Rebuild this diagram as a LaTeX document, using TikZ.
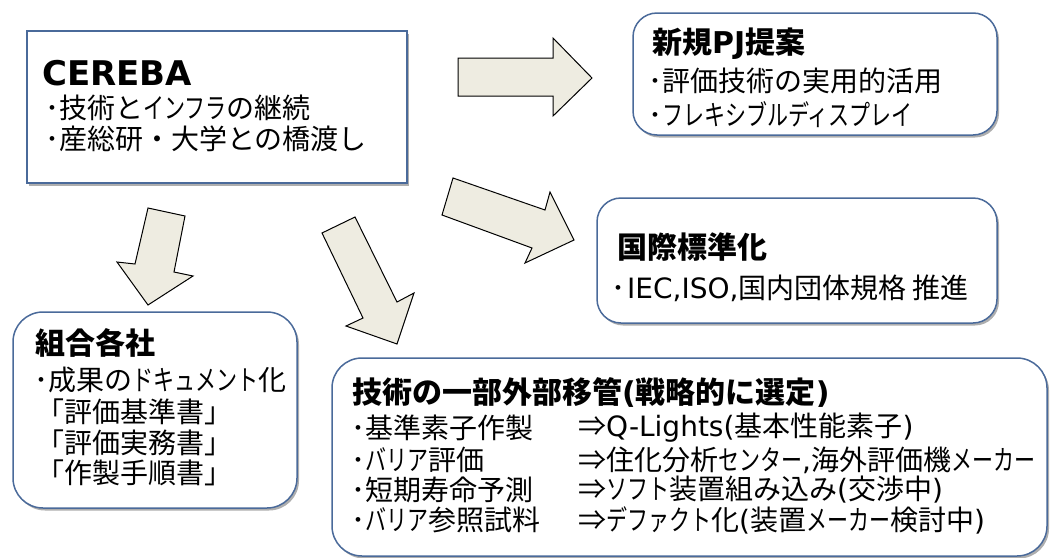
\documentclass[tikz,border=0pt]{standalone}
\usepackage{fontspec}
\setmainfont{Noto Sans CJK JP}
\newfontfamily\ktf{Noto Sans CJK JP}[FakeStretch=0.75]
\newfontfamily\laf{DejaVu Sans}
\newcommand\kt[1]{{\ktf #1}}
\newcommand\la[1]{{\laf #1}}
\newcommand\dt{･}
\usetikzlibrary{shadows}
\definecolor{bordc}{HTML}{4A6A9A}
\definecolor{arrowc}{HTML}{EEECE1}
\begin{document}
\begin{tikzpicture}[x=1pt,y=-1pt,
  box/.style={draw=bordc, line width=1.5pt, fill=white, inner sep=0pt,
    drop shadow={shadow xshift=2pt, shadow yshift=-2.5pt, opacity=0.45, fill=black!70}},
  rbox/.style={box, rounded corners=#1},
  blk/.style={draw=black, line width=1pt, fill=arrowc, line join=miter},
  txt/.style={anchor=west, inner sep=0pt, font=\fontsize{28}{30}\selectfont},
  ttl/.style={anchor=west, inner sep=0pt, font=\fontsize{30}{32}\selectfont\bfseries},
]
\useasboundingbox (0,0) rectangle (1051,557);
% block arrows
\draw[blk] (458,58) -- (553,58) -- (553,38) -- (592,78) -- (553,116) -- (553,96) -- (458,96) -- cycle;
\draw[blk] (453,178) -- (545,210) -- (550,192) -- (574,240) -- (525,263) -- (532,248) -- (442,215) -- cycle;
\draw[blk] (148,208) -- (185,216) -- (174,272) -- (193,276) -- (148,305) -- (117,262) -- (135,264) -- cycle;
\draw[blk] (322,233) -- (355,217) -- (397,302) -- (414,293) -- (397,344) -- (346,326) -- (363,318) -- cycle;
% boxes
\node[box, minimum width=380pt, minimum height=152pt] (cereba) at (217,107) {};
\node[rbox=24pt, minimum width=364pt, minimum height=122pt] (pj) at (815,74) {};
\node[rbox=24pt, minimum width=400pt, minimum height=125pt] (std) at (797,260.5) {};
\node[rbox=30pt, minimum width=284pt, minimum height=196pt] (kumiai) at (155,410) {};
\node[rbox=30pt, minimum width=715pt, minimum height=198pt] (tech) at (689.5,457) {};
% CEREBA texts
\node[anchor=west, inner sep=0pt, font=\laf\fontsize{34}{36}\selectfont\bfseries] (c0) at (42,73) {CEREBA};
\node[txt] (c1) at (45,108) {\dt 技術と\kt{インフラ}の継続};
\node[txt] (c2) at (45,139) {\dt 産総研・大学との橋渡し};
% PJ
\node[ttl] (p0) at (652,44) {新規\la{PJ}提案};
\node[txt] (p1) at (648,81) {\dt 評価技術の実用的活用};
\node[txt] (p2) at (648,115) {\dt\kt{フレキシブルディスプレイ}};
% std
\node[ttl] (s0) at (617,247) {国際標準化};
\node[txt] (s1) at (611,288) {\dt\hspace{2pt}\la{IEC,ISO,}国内団体規格 推進};
% kumiai
\node[ttl] (k0) at (35,343) {組合各社};
\node[txt] (k1) at (34.5,380) {\dt 成果の\kt{ドキュメント}化};
\node[txt] (k2) at (36,412) {「評価基準書」};
\node[txt] (k3) at (36,443) {「評価実務書」};
\node[txt] (k4) at (36,473) {「作製手順書」};
% tech
\node[ttl] (t0) at (352,392) {技術の一部外部移管\la{(}戦略的に選定\la{)}};
\node[txt] (t1) at (351.5,428) {\dt 基準素子作製};
\node[txt] (t2) at (351.5,460) {\dt\kt{バリア}評価};
\node[txt] (t3) at (351.5,490) {\dt 短期寿命予測};
\node[txt] (t4) at (351.5,520) {\dt\kt{バリア}参照試料};
\node[txt] (u1) at (578,428) {⇒\la{Q-Lights(}基本性能素子\la{)}};
\node[txt] (u2) at (578,460) {⇒住化分析\kt{センター}\la{,}海外評価機\kt{メーカー}};
\node[txt] (u3) at (578,490) {⇒\kt{ソフト}装置組み込み\la{(}交渉中\la{)}};
\node[txt] (u4) at (578,520) {⇒\kt{デファクト}化\la{(}装置\kt{メーカー}検討中\la{)}};
\end{tikzpicture}
\end{document}
